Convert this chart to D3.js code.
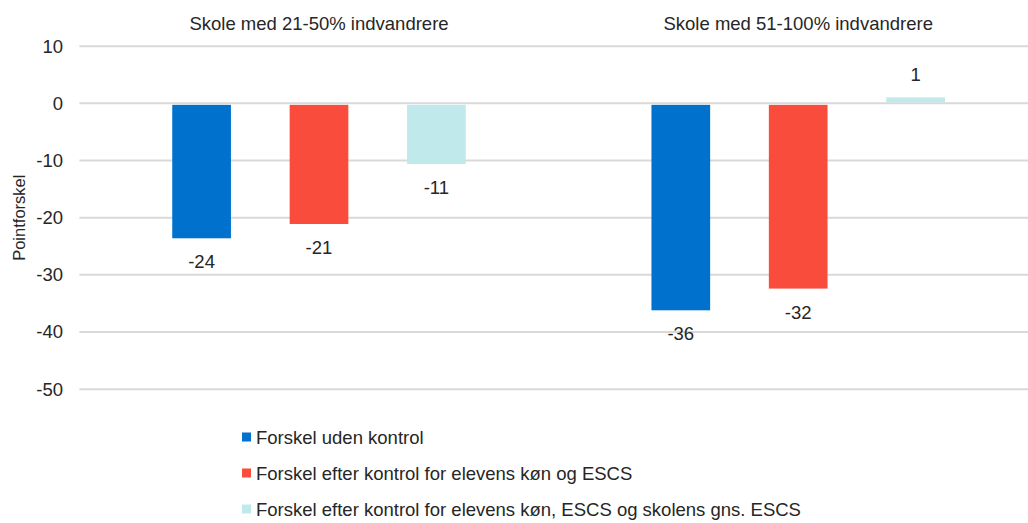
<!DOCTYPE html>
<html>
<head>
<meta charset="utf-8">
<script src="https://cdn.jsdelivr.net/npm/d3@7"></script>
<style>
  html, body { margin: 0; padding: 0; background: #fff; }
  svg { display: block; font-family: "Liberation Sans", Arial, sans-serif; }
</style>
</head>
<body>
<svg id="chart" width="1028" height="523"></svg>
<script>
const categories = ["Skole med 21-50% indvandrere", "Skole med 51-100% indvandrere"];
const seriesNames = [
  "Forskel uden kontrol",
  "Forskel efter kontrol for elevens køn og ESCS",
  "Forskel efter kontrol for elevens køn, ESCS og skolens gns. ESCS"
];
const seriesColors = ["#0072CE", "#F94C3C", "#BFE9EA"];
const serie1 = [-23.6, -36.2];
const serie2 = [-21.1, -32.4];
const serie3 = [-10.6, 1.05];
const yTicks = [10, 0, -10, -20, -30, -40, -50];
const yTitle = "Pointforskel";

const seriesValues = [serie1, serie2, serie3];
const data = categories.map((c, i) => ({
  category: c,
  values: seriesNames.map((s, j) => ({ series: s, idx: j, value: seriesValues[j][i] }))
}));

const fmt = d3.formatLocale({ decimal: ",", thousands: ".", grouping: [3], currency: ["", " kr"], minus: "-" }).format("d");
const FS = 18.5;

const svg = d3.select("#chart");
const plotTop = 46.2, plotBottom = 389.2;
const plotLeft = 79.4, plotRight = 1037.8;

const y = d3.scaleLinear().domain([10, -50]).range([plotTop, plotBottom]);

const x0 = d3.scaleBand().domain(categories).range([plotLeft, plotRight])
  .paddingInner(0.265).paddingOuter(0.1325);
const x1 = d3.scaleBand().domain(seriesNames).range([0, x0.bandwidth()])
  .paddingInner(0.5).paddingOuter(0.25);
const color = d3.scaleOrdinal().domain(seriesNames).range(seriesColors);

// gridlines
svg.append("g").selectAll("line").data(yTicks).join("line")
  .attr("x1", plotLeft).attr("x2", plotRight)
  .attr("y1", d => y(d)).attr("y2", d => y(d))
  .attr("stroke", "#d9d9d9").attr("stroke-width", 2);

// y axis labels
const yAxis = d3.axisLeft(y).tickValues(yTicks).tickSize(0).tickPadding(0).tickFormat(fmt);
const gy = svg.append("g").attr("transform", `translate(63,0)`).call(yAxis);
gy.select(".domain").remove();
gy.selectAll("text").attr("font-size", FS).attr("fill", "#262626")
  .attr("font-family", "Liberation Sans, Arial, sans-serif");

// y title
svg.append("text")
  .attr("transform", `translate(25,${(plotTop + plotBottom) / 2}) rotate(-90)`)
  .attr("text-anchor", "middle").attr("font-size", 16.5).attr("fill", "#262626")
  .text(yTitle);

// category titles on top
const xAxis = d3.axisTop(x0).tickSize(0).tickPadding(0);
const gx = svg.append("g").attr("transform", `translate(0,30)`).call(xAxis);
gx.select(".domain").remove();
gx.selectAll("text").attr("font-size", FS).attr("fill", "#262626")
  .attr("font-family", "Liberation Sans, Arial, sans-serif");

// bars
const groups = svg.append("g").selectAll("g").data(data).join("g")
  .attr("transform", d => `translate(${x0(d.category)},0)`);

groups.selectAll("rect").data(d => d.values).join("rect")
  .attr("x", d => x1(d.series))
  .attr("width", x1.bandwidth())
  .attr("y", d => d.value >= 0 ? y(d.value) : y(0) + 1.5)
  .attr("height", d => d.value >= 0 ? y(0) - 1 - y(d.value) : y(d.value) - y(0) - 1.5)
  .attr("fill", d => color(d.series));

groups.selectAll("text").data(d => d.values).join("text")
  .attr("x", d => x1(d.series) + x1.bandwidth() / 2)
  .attr("y", d => d.value >= 0 ? y(d.value) - 16 : y(d.value) + 30)
  .attr("text-anchor", "middle").attr("font-size", FS).attr("fill", "#262626")
  .text(d => fmt(Math.round(d.value)));

// legend
const legend = svg.append("g").selectAll("g").data(seriesNames).join("g")
  .attr("transform", (d, i) => `translate(242,${437 + i * 36})`);
legend.append("rect").attr("x", 0).attr("y", -4.5).attr("width", 9).attr("height", 9)
  .attr("fill", d => color(d));
legend.append("text").attr("x", 14).attr("y", 6.5)
  .attr("font-size", FS).attr("fill", "#262626").text(d => d);
</script>
</body>
</html>
